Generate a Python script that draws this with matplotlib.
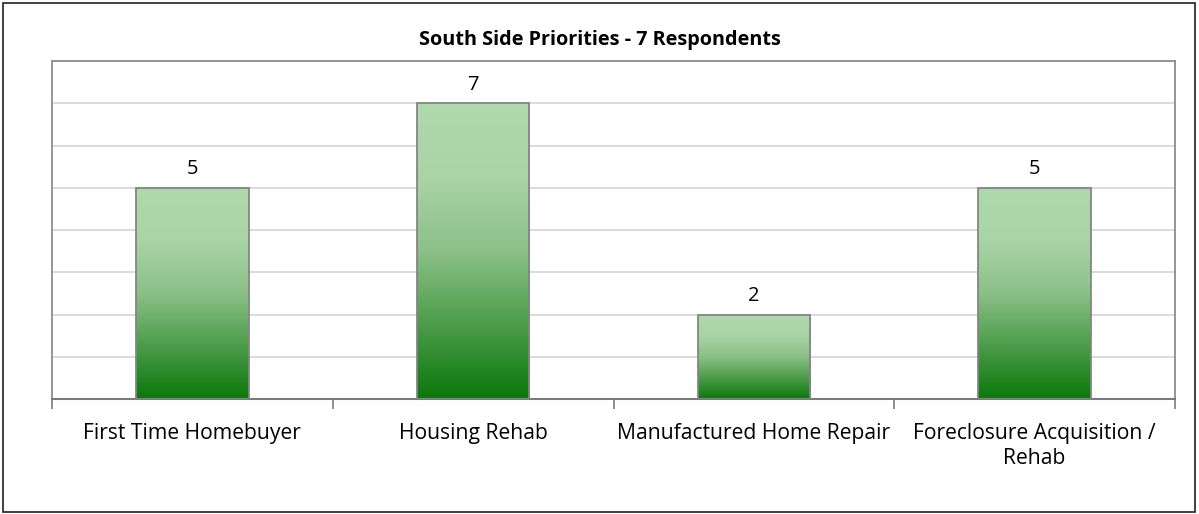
import numpy as np
import matplotlib.pyplot as plt
from matplotlib.colors import LinearSegmentedColormap
from matplotlib.patches import Rectangle

# Datos
categorias = ["First Time Homebuyer", "Housing Rehab", "Manufactured Home Repair",
              "Foreclosure Acquisition /\nRehab"]
respuestas = [5, 7, 2, 5]
titulo = "South Side Priorities - 7 Respondents"

plt.rcParams['font.family'] = ['Open Sans', 'DejaVu Sans']

fig = plt.figure(figsize=(11.99, 5.14), dpi=100)
fig.patches.append(Rectangle((3 / 1199, 2 / 514), 1192 / 1199, 509 / 514,
                             transform=fig.transFigure, fill=False,
                             edgecolor="#202020", linewidth=1.2))

ax = fig.add_axes([52 / 1199, 1 - 399 / 514, 1123 / 1199, 338 / 514])

x = np.arange(len(categorias))
ancho = 0.4
barras = ax.bar(x, respuestas, width=ancho, color="none", edgecolor="#858585",
                linewidth=1.3, zorder=3)

# Degradado de cada barra
verde = LinearSegmentedColormap.from_list(
    "verde", [(0.0, "#0b780b"), (0.5, "#8cc088"), (0.75, "#a9d4a6"), (1.0, "#b0d9ae")])
grad = np.linspace(0, 1, 256).reshape(-1, 1)
for b in barras:
    x0, y0 = b.get_x(), b.get_y()
    w, h = b.get_width(), b.get_height()
    im = ax.imshow(grad, cmap=verde, origin="lower", aspect="auto",
                   extent=[x0, x0 + w, y0, y0 + h], zorder=2)
    im.set_clip_path(b)
    ax.text(x0 + w / 2, h + 0.2, str(h), ha="center", va="bottom", fontsize=14.5)

ax.set_xlim(-0.5, len(categorias) - 0.5)
ax.set_ylim(0, 8)
ax.set_yticks(range(0, 9))
ax.set_yticklabels([])
ax.tick_params(axis="y", length=0)
ax.grid(axis="y", color="#d4d4d4", linewidth=1.2, zorder=0)

ax.set_xticks(x)
ax.set_xticklabels(categorias, fontsize=15.2, linespacing=1.3)
ax.tick_params(axis="x", length=0, pad=17)
ax.set_xticks(np.arange(-0.5, len(categorias)), minor=True)
ax.tick_params(axis="x", which="minor", length=7, color="#7a7a7a", width=1.2)

for lado in ["left", "top", "right"]:
    ax.spines[lado].set_color("#8c8c8c")
    ax.spines[lado].set_linewidth(1.3)
ax.spines["bottom"].set_color("#7a7a7a")
ax.spines["bottom"].set_linewidth(1.5)

fig.text(0.5, 1 - 40 / 514, titulo, ha="center", va="center",
         fontsize=14.3, fontweight="bold")

plt.savefig("out.png", dpi=100)
